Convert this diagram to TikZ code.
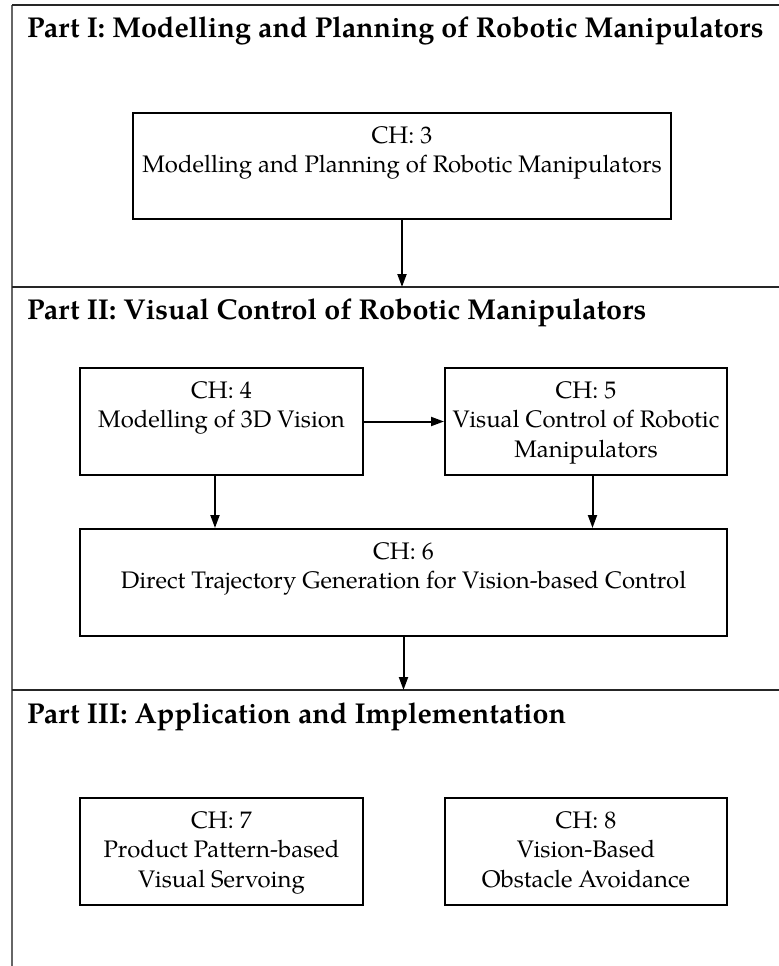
\documentclass[tikz,border=0pt]{standalone}
\usepackage{fontspec}
\setmainfont{TeX Gyre Pagella}
\usetikzlibrary{arrows.meta,calc}
\tikzset{
  chbox/.style={draw=black, line width=2bp, inner sep=0pt, rectangle},
  chtext/.style={align=center, inner sep=0pt, anchor=north, font=\fontsize{24}{30}\selectfont},
  parttitle/.style={anchor=base west, inner sep=0pt, font=\fontsize{28.8}{32}\selectfont\bfseries},
  arr/.style={line width=2bp, -{Triangle[length=13bp,width=9bp]}},
  sepline/.style={line width=1.3bp, black!85},
  frameline/.style={line width=1.6bp, black!60},
}
\begin{document}
\begin{tikzpicture}[x=1bp,y=-1bp]
\useasboundingbox (0,0) rectangle (779,966);
% frame and separators
\coordinate (tl) at (12,5);
\coordinate (tr) at (779,5);
\coordinate (bl) at (12,966);
\coordinate (s2l) at (12,287);
\coordinate (s2r) at (779,287);
\coordinate (s3l) at (12,690);
\coordinate (s3r) at (779,690);
\draw[frameline] (bl) -- (tl);
\draw[sepline] (tl) -- (tr);
\draw[sepline] (s2l) -- (s2r);
\draw[sepline] (s3l) -- (s3r);
% titles
\node[parttitle] (p1) at (27,37) {Part I: Modelling and Planning of Robotic Manipulators};
\node[parttitle] (p2) at (27,319) {Part II: Visual Control of Robotic Manipulators};
\node[parttitle] (p3) at (27,723) {Part III: Application and Implementation};
% boxes
\node[chbox, minimum width=538bp, minimum height=106bp] (c3) at (402,166) {};
\node[chbox, minimum width=283bp, minimum height=107bp] (c4) at (221.5,421.5) {};
\node[chbox, minimum width=282bp, minimum height=107bp] (c5) at (586,421.5) {};
\node[chbox, minimum width=647bp, minimum height=107bp] (c6) at (403.5,582.5) {};
\node[chbox, minimum width=283bp, minimum height=107bp] (c7) at (221.5,851.5) {};
\node[chbox, minimum width=282bp, minimum height=107bp] (c8) at (586,851.5) {};
% texts
\node[chtext] (t3) at ($(c3.north)+(0,13.9)$) {CH: 3\\Modelling and Planning of Robotic Manipulators};
\node[chtext] (t4) at ($(c4.north)+(0,13.9)$) {CH: 4\\Modelling of 3D Vision};
\node[chtext] (t5) at ($(c5.north)+(0,13.9)$) {CH: 5\\Visual Control of Robotic\\Manipulators};
\node[chtext] (t6) at ($(c6.north)+(0,13.9)$) {CH: 6\\Direct Trajectory Generation for Vision-based Control};
\node[chtext] (t7) at ($(c7.north)+(0,13.9)$) {CH: 7\\Product Pattern-based\\Visual Servoing};
\node[chtext] (t8) at ($(c8.north)+(0,13.9)$) {CH: 8\\Vision-Based\\Obstacle Avoidance};
% arrows
\draw[arr] (c3.south) -- (c3.south |- s2l);
\draw[arr] (c4.east) -- (c5.west);
\draw[arr] ($(c4.south)+(-6.5,0)$) coordinate (a4) -- (a4 |- c6.north);
\draw[arr] ($(c5.south)+(6.5,0)$) coordinate (a5) -- (a5 |- c6.north);
\draw[arr] (c6.south) -- (c6.south |- s3l);
\end{tikzpicture}
\end{document}
